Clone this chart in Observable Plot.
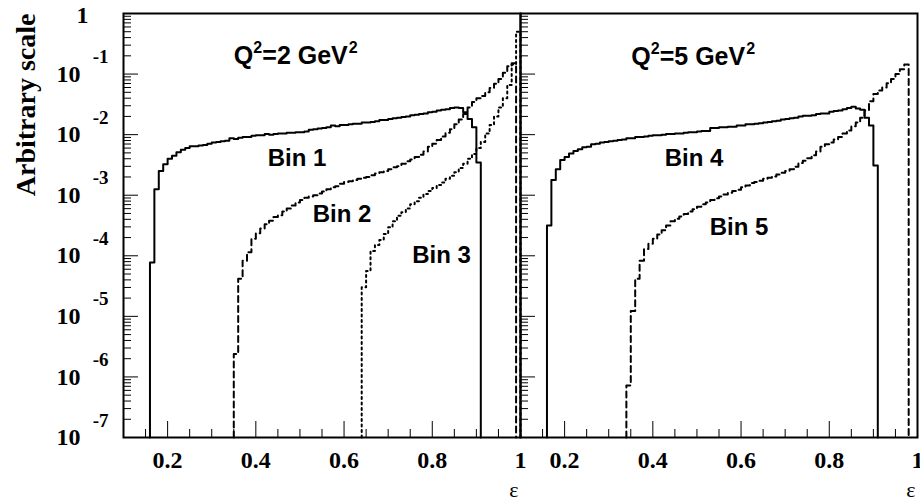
<!DOCTYPE html>
<html>
<head>
<meta charset="utf-8">
<script src="https://cdn.jsdelivr.net/npm/d3@7"></script>
<script src="https://cdn.jsdelivr.net/npm/@observablehq/plot@0.6"></script>
<style>
  html, body { margin: 0; padding: 0; background: #fff; }
  #chart { width: 920px; height: 500px; }
</style>
</head>
<body>
<div id="chart"></div>
<script>
// ---------- data (log10 of bin contents; bins of width 0.01 in ε) ----------
const binWidth = 0.01;
const panels = ["left", "right"];
const panelQ2 = ["2", "5"];   // Q² in GeV² for each panel

// Q²=2 GeV² panel
const bin1Log = [
  -4.11,-2.90,-2.60,-2.49,-2.40,-2.35,-2.29,-2.25,-2.22,-2.19,
  -2.19,-2.18,-2.17,-2.15,-2.13,-2.12,-2.11,-2.10,-2.06,-2.07,
  -2.05,-2.04,-2.04,-2.02,-2.01,-2.01,-1.99,-2.00,-1.99,-1.98,
  -1.98,-1.97,-1.97,-1.96,-1.96,-1.95,-1.92,-1.91,-1.90,-1.89,
  -1.88,-1.85,-1.86,-1.84,-1.84,-1.83,-1.82,-1.82,-1.80,-1.80,
  -1.79,-1.78,-1.76,-1.76,-1.74,-1.73,-1.72,-1.71,-1.70,-1.68,
  -1.67,-1.66,-1.65,-1.63,-1.62,-1.60,-1.59,-1.58,-1.56,-1.55,
  -1.56,-1.63,-1.74,-1.88,-2.46
];
const bin2Log = [
  -5.62,-4.38,-4.08,-3.94,-3.72,-3.63,-3.55,-3.48,-3.42,-3.36,
  -3.33,-3.27,-3.22,-3.17,-3.12,-3.08,-3.04,-3.02,-3.00,-2.97,
  -2.94,-2.90,-2.87,-2.85,-2.81,-2.78,-2.77,-2.75,-2.73,-2.71,
  -2.70,-2.67,-2.64,-2.62,-2.60,-2.57,-2.54,-2.52,-2.48,-2.44,
  -2.41,-2.37,-2.33,-2.28,-2.20,-2.15,-2.09,-2.03,-1.97,-1.91,
  -1.83,-1.75,-1.66,-1.55,-1.46,-1.40,-1.36,-1.30,-1.23,-1.16,
  -1.08,-0.98,-0.87,-0.82
];
const bin3Log = [
  -4.52,-4.25,-3.92,-3.82,-3.74,-3.64,-3.53,-3.43,-3.34,-3.28,
  -3.22,-3.15,-3.10,-3.04,-2.98,-2.93,-2.88,-2.83,-2.79,-2.73,
  -2.68,-2.62,-2.55,-2.48,-2.40,-2.32,-2.22,-2.12,-1.98,-1.84,
  -1.70,-1.55,-1.40,-1.18,-0.84,-0.30
];
// Q²=5 GeV² panel
const bin4Log = [
  -3.50,-2.75,-2.57,-2.42,-2.37,-2.31,-2.27,-2.24,-2.21,-2.20,
  -2.16,-2.15,-2.13,-2.12,-2.11,-2.10,-2.09,-2.08,-2.06,-2.06,
  -2.04,-2.04,-2.03,-2.02,-2.01,-2.01,-2.00,-1.99,-1.99,-1.98,
  -1.98,-1.97,-1.96,-1.96,-1.95,-1.94,-1.94,-1.89,-1.89,-1.88,
  -1.88,-1.87,-1.87,-1.85,-1.85,-1.83,-1.83,-1.82,-1.81,-1.80,
  -1.79,-1.78,-1.77,-1.75,-1.74,-1.73,-1.72,-1.70,-1.69,-1.69,
  -1.68,-1.66,-1.65,-1.65,-1.62,-1.61,-1.60,-1.58,-1.56,-1.54,
  -1.57,-1.59,-1.72,-1.85,-2.51
];
const bin5Log = [
  -6.14,-4.91,-4.38,-4.08,-3.89,-3.80,-3.72,-3.65,-3.58,-3.50,
  -3.43,-3.39,-3.35,-3.31,-3.27,-3.23,-3.19,-3.15,-3.12,-3.08,
  -3.05,-3.02,-2.99,-2.96,-2.93,-2.91,-2.87,-2.84,-2.80,-2.78,
  -2.76,-2.73,-2.71,-2.69,-2.66,-2.63,-2.60,-2.57,-2.53,-2.47,
  -2.43,-2.39,-2.34,-2.28,-2.20,-2.16,-2.13,-2.08,-2.04,-1.98,
  -1.93,-1.86,-1.80,-1.72,-1.60,-1.45,-1.33,-1.27,-1.22,-1.15,
  -1.08,-1.00,-0.92,-0.84
];

const seriesName  = ["Bin 1", "Bin 2", "Bin 3", "Bin 4", "Bin 5"];
const seriesPanel = ["left", "left", "left", "right", "right"];
const seriesStart = [0.16, 0.35, 0.64, 0.16, 0.34];
const seriesLogs  = [bin1Log, bin2Log, bin3Log, bin4Log, bin5Log];

// annotation anchors (ε, value) for the bin labels and the panel titles
const noteEps   = [0.427, 0.529, 0.7545, 0.427, 0.529];
const noteValue = [4.0e-3, 4.9e-4, 1.02e-4, 4.0e-3, 3.0e-4];
const titleEps   = [0.35, 0.351];
const titleValue = [0.197, 0.19];

// ticks
const yMajor = [1e-7, 1e-6, 1e-5, 1e-4, 1e-3, 1e-2, 1e-1, 1];
const yExponentLabels = ["-7", "-6", "-5", "-4", "-3", "-2", "-1"];
const xMajor = [0.2, 0.4, 0.6, 0.8, 1.0];
const xTickLabels = ["0.2", "0.4", "0.6", "0.8", "1"];
const xMinor = [0.15, 0.25, 0.3, 0.35, 0.45, 0.5, 0.55, 0.65, 0.7, 0.75, 0.85, 0.9, 0.95];

// ---------- styling (kept apart from data) ----------
const lineStyle = {
  "Bin 1": {strokeWidth: 2},
  "Bin 2": {strokeWidth: 2, strokeDasharray: "6,4"},
  "Bin 3": {strokeWidth: 2, strokeDasharray: "2,3.5"},
  "Bin 4": {strokeWidth: 2},
  "Bin 5": {strokeWidth: 2, strokeDasharray: "6,4"}
};
const axisFont = "'Liberation Serif', 'Times New Roman', serif";
const noteFont = "'Liberation Sans', Arial, Helvetica, sans-serif";
const yFloor = 1e-7;
const frameH = 500 - 13 - 63;
const panelW = (920 - 123 - 3) / 2;

const yMinor = d3.range(-7, 0).flatMap(n => d3.range(2, 10).map(k => k * Math.pow(10, n)));

function outline(i) {
  const panel = seriesPanel[i], name = seriesName[i], start = seriesStart[i], logs = seriesLogs[i];
  const pts = [{panel, name, eps: start, value: yFloor}];
  logs.forEach((e, j) => pts.push({panel, name, eps: Math.round((start + j * binWidth) * 100) / 100, value: Math.pow(10, e)}));
  pts.push({panel, name, eps: Math.round((start + logs.length * binWidth) * 100) / 100, value: yFloor});
  return pts;
}

const notes = seriesName.map((t, i) => ({text: t, panel: seriesPanel[i], eps: noteEps[i], value: noteValue[i]}));
const titles = panels.map((p, i) => ({panel: p, q2: panelQ2[i], eps: titleEps[i], value: titleValue[i]}));

const histMarks = seriesName.map((name, i) => Plot.line(outline(i), {
  x: "eps", y: "value", fx: "panel", curve: "step-after",
  stroke: "#000", ...lineStyle[name]
}));

const titleOpts = {x: "eps", y: "value", fx: "panel", textAnchor: "start", lineAnchor: "middle",
  fontWeight: "bold", fontFamily: noteFont, fill: "#000"};

const chart = Plot.plot({
  width: 920,
  height: 500,
  marginTop: 13,
  marginBottom: 63,
  marginLeft: 123,
  marginRight: 3,
  style: { background: "#fff", color: "#000", overflow: "visible" },
  fx: { domain: panels, padding: 0, axis: null, label: null },
  x: { domain: [0.1, 1.0] },
  y: { type: "log", domain: [1e-7, 1] },
  marks: [
    // ticks (inside the frame, in every panel)
    Plot.tickY(yMajor, { y: d => d, stroke: "#000", strokeWidth: 1, insetRight: panelW - 15 }),
    Plot.tickY(yMinor, { y: d => d, stroke: "#000", strokeWidth: 1, insetRight: panelW - 8 }),
    Plot.tickX(xMajor, { x: d => d, stroke: "#000", strokeWidth: 1, insetTop: frameH - 16 }),
    Plot.tickX(xMinor, { x: d => d, stroke: "#000", strokeWidth: 1, insetTop: frameH - 8 }),
    // histograms
    ...histMarks,
    Plot.frame({ stroke: "#000", strokeWidth: 2 }),
    // y tick labels (left panel only)
    Plot.axisY(yMajor.slice(0, 7), {
      tickSize: 0, tickPadding: 43, tickFormat: () => "10", label: null,
      fontSize: 24, fontWeight: "bold", fontFamily: axisFont
    }),
    Plot.axisY(yMajor.slice(0, 7), {
      tickSize: 0, tickPadding: 15, dy: -17, label: null,
      tickFormat: d => yExponentLabels[yMajor.indexOf(d)],
      fontSize: 19, fontWeight: "bold", fontFamily: axisFont
    }),
    Plot.axisY([1], {
      tickSize: 0, tickPadding: 35, dy: 2, tickFormat: () => "1", label: null,
      fontSize: 24, fontWeight: "bold", fontFamily: axisFont
    }),
    // x tick labels (both panels)
    Plot.axisX(xMajor, {
      tickSize: 0, tickPadding: 13, label: null,
      tickFormat: d => xTickLabels[xMajor.indexOf(d)],
      fontSize: 24, fontWeight: "bold", fontFamily: axisFont
    }),
    // axis titles
    Plot.text(["ε"], {
      frameAnchor: "bottom-right", textAnchor: "end", lineAnchor: "middle",
      dx: -2, dy: 52, fontSize: 22, fontFamily: axisFont, fill: "#000"
    }),
    Plot.text(["Arbitrary scale"], {
      fx: () => "left", frameAnchor: "top-left", rotate: -90,
      textAnchor: "end", lineAnchor: "middle", dx: -97, dy: 0,
      fontSize: 28, fontWeight: "bold", fontFamily: axisFont, fill: "#000"
    }),
    // panel titles Q^2 = n GeV^2 (with raised exponents)
    Plot.text(titles, {...titleOpts, text: () => "Q", fontSize: 25}),
    Plot.text(titles, {...titleOpts, text: () => "2", fontSize: 16, dx: 19.5, dy: -8}),
    Plot.text(titles, {...titleOpts, text: d => "=" + d.q2 + " GeV", fontSize: 25, dx: 28.5}),
    Plot.text(titles, {...titleOpts, text: () => "2", fontSize: 16, dx: 115, dy: -8}),
    // bin labels
    Plot.text(notes, {
      x: "eps", y: "value", fx: "panel", text: "text",
      textAnchor: "start", lineAnchor: "middle",
      fontSize: 24, fontWeight: "bold", fontFamily: noteFont, fill: "#000"
    })
  ]
});

document.getElementById("chart").appendChild(chart);
</script>
</body>
</html>
